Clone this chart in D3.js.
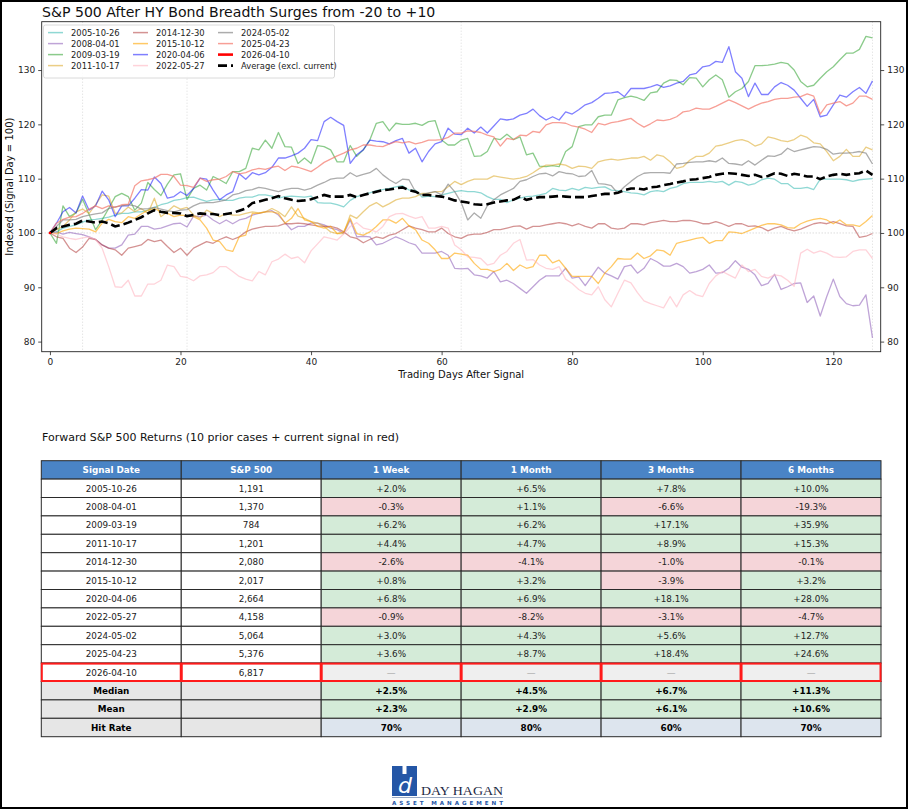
<!DOCTYPE html>
<html>
<head>
<meta charset="utf-8">
<script src="https://cdn.jsdelivr.net/npm/d3@7"></script>
<style>
  body { margin: 0; background: #fff; }
  text { font-family: "DejaVu Sans", sans-serif; }
</style>
</head>
<body>
<div id="chart"></div>
<script>
// ---- chart data (indexed, signal day = 100), one value per trading day 0..126
var s2005 = [100,100.2,100.9,101.2,101.5,102.0,102.4,102.5,102.7,102.9,
  103.3,103.6,103.6,103.9,103.9,104.2,104.7,105.2,105.5,106.0,
  106.2,106.5,106.6,106.2,105.8,106.1,106.2,106.0,106.0,106.4,
  106.6,106.6,107.0,107.0,106.8,106.4,106.7,106.8,106.7,106.6,
  106.8,105.6,105.5,105.5,105.2,104.8,106.0,106.7,107.0,107.4,
  107.8,108.0,108.2,108.5,108.7,107.9,107.9,106.6,106.8,106.7,
  107.0,107.3,107.6,107.8,107.6,107.6,107.4,106.7,106.2,106.2,
  105.6,106.1,106.4,106.7,106.8,107.0,107.3,108.2,107.9,107.8,
  108.2,107.9,108.4,108.2,108.4,108.5,107.9,107.8,107.6,107.4,
  107.3,107.0,107.6,107.8,107.6,108.2,108.5,109.1,109.3,109.3,
  109.3,109.5,109.3,109.5,108.8,109.5,109.3,108.8,109.1,109.8,
  110.1,109.9,109.1,109.1,108.2,108.2,108.4,108.0,109.9,109.9,
  109.9,109.9,109.8,109.5,109.8,109.9,110.0];
var s2008 = [100,100.2,99.8,100.1,99.9,99.7,99.3,98.8,97.8,97.2,
  97.2,97.8,99.6,99.8,101.2,101.2,100.7,100.9,101.3,101.7,
  101.8,101.1,103.1,103.0,103.3,102.4,101.7,102.4,101.7,102.4,
  102.7,103.3,103.6,103.9,104.1,103.3,101.9,100.6,101.2,101.2,
  101.8,101.8,101.5,100.9,100.6,99.9,102.4,99.3,99.4,99.3,
  97.8,98.1,98.7,99.3,98.8,98.2,97.8,96.3,96.3,96.3,
  96.6,95.9,93.5,93.4,93.5,92.3,92.1,91.7,92.9,91.0,
  91.3,90.7,89.8,88.9,90.1,91.3,92.1,92.1,92.1,93.5,
  91.7,91.9,90.3,92.0,93.7,92.6,92.1,91.5,93.8,94.1,
  92.6,93.5,95.3,94.7,93.9,93.9,94.4,93.8,92.6,92.9,
  93.3,94.1,92.6,92.7,93.5,94.9,93.7,93.3,92.3,90.3,
  90.7,92.4,89.6,90.1,90.7,90.8,87.2,88.4,84.7,88.3,
  91.5,88.3,87.0,86.6,86.7,88.6,80.7];
var s2009 = [100,98.1,105.0,103.0,103.7,106.2,103.4,100.6,102.4,104.5,
  106.7,107.3,106.7,104.2,105.5,109.3,108.0,106.9,109.0,110.7,
  110.9,106.2,108.2,108.8,107.9,110.4,109.8,109.1,111.3,111.3,
  111.9,115.6,115.3,117.1,115.6,118.5,115.9,115.8,112.8,113.8,
  112.8,116.1,115.9,115.3,113.1,113.1,116.1,114.1,115.3,117.1,
  120.2,120.5,118.8,120.2,120.0,120.0,120.2,119.8,120.5,120.7,
  117.1,116.2,116.2,117.1,117.4,114.1,114.2,115.0,117.4,117.2,
  118.2,117.2,117.7,114.4,114.7,112.3,112.2,112.4,112.2,115.0,
  115.9,119.6,119.9,119.9,121.4,121.7,121.7,124.5,124.9,125.2,
  124.9,124.4,125.8,126.0,127.6,128.2,128.1,127.3,128.6,128.5,
  126.9,128.2,129.1,128.2,125.0,126.0,126.6,127.9,130.8,130.8,
  130.9,131.1,131.4,131.2,130.0,127.9,126.9,127.2,128.5,129.7,
  130.6,131.9,133.1,133.1,133.8,136.2,135.9];
var s2011 = [100,100.6,101.2,102.4,103.9,104.4,103.6,105.2,107.0,106.8,
  103.6,103.7,104.8,103.9,104.5,103.6,106.4,103.0,103.9,105.0,
  104.4,104.7,103.3,102.7,104.2,103.6,103.0,103.6,103.3,103.3,
  103.6,103.9,103.7,103.9,104.5,103.9,103.0,104.8,103.1,102.7,
  102.1,101.8,101.2,100.2,99.9,99.9,103.3,102.7,103.9,105.0,
  105.6,104.8,105.4,106.1,106.4,106.4,106.7,107.3,107.3,107.6,
  107.6,108.5,109.5,108.9,109.5,109.9,109.9,109.9,110.5,110.3,
  110.1,109.9,110.1,110.4,111.1,111.9,112.5,112.5,112.7,112.5,
  111.9,112.3,112.2,111.9,113.1,113.4,113.6,113.4,113.6,113.8,
  113.8,114.1,113.4,114.4,114.1,113.1,111.9,112.2,113.4,114.1,
  114.1,114.7,116.0,116.2,116.6,117.0,117.2,116.8,116.0,116.4,
  117.7,117.4,117.0,116.8,117.2,118.0,117.6,116.6,116.4,115.0,
  113.3,114.1,115.4,114.1,114.1,115.8,115.3];
var s2014 = [100,99.3,99.0,97.2,96.4,97.4,99.0,98.8,97.8,97.2,
  96.9,95.9,97.2,97.5,97.8,98.8,98.4,98.7,97.5,96.4,
  97.2,95.9,97.2,97.8,98.4,98.1,98.8,99.3,98.8,99.3,
  100.2,100.7,101.0,101.2,101.2,101.3,101.7,101.7,101.8,101.7,
  101.5,101.3,101.2,101.2,100.9,100.2,99.3,99.0,98.2,98.8,
  99.3,99.0,99.6,99.9,100.6,101.3,100.9,100.6,100.2,100.2,
  100.9,99.9,99.3,99.0,99.6,99.8,99.8,100.1,100.6,100.6,
  100.9,101.2,101.3,100.7,101.2,101.2,101.5,101.7,101.9,101.7,
  101.3,101.7,101.2,100.9,101.7,101.7,100.9,100.7,100.9,101.7,
  101.7,101.5,101.9,102.1,102.3,102.1,102.1,102.3,102.3,102.1,
  101.7,101.7,102.1,101.7,101.2,101.7,101.7,101.2,101.3,101.0,
  100.4,100.9,101.2,100.7,100.4,100.7,101.2,101.7,101.9,101.7,
  102.1,101.7,101.3,101.2,99.2,99.4,99.9];
var s2015 = [100,99.9,100.4,100.7,100.9,100.8,100.7,100.2,101.8,102.5,
  102.1,101.9,103.0,102.7,103.5,104.2,104.5,103.9,103.6,103.0,
  103.3,103.2,103.0,102.4,100.9,98.7,98.4,96.9,96.6,99.3,
  99.6,103.6,103.6,103.9,103.9,103.6,101.8,102.7,104.5,102.4,
  102.1,101.2,100.9,101.2,99.9,100.2,102.7,99.9,99.6,100.2,
  101.2,102.4,102.4,101.8,102.7,101.3,100.6,98.7,98.1,96.9,
  95.3,95.3,96.3,96.1,95.9,94.4,93.3,93.3,92.9,93.3,
  94.4,93.1,94.1,93.5,93.8,95.9,95.9,94.5,95.0,93.5,
  92.0,92.0,92.0,92.0,90.7,92.6,93.8,95.3,95.2,95.2,
  96.3,95.3,95.8,96.9,96.7,95.9,98.1,98.4,98.7,99.0,
  99.2,98.1,98.6,98.6,100.2,100.1,99.9,100.4,100.9,101.4,
  101.7,101.7,101.5,101.0,100.9,101.7,102.2,102.5,102.7,102.4,
  101.7,102.4,101.5,101.5,101.2,102.1,103.2];
var s2020 = [100,101.8,103.9,104.7,103.7,106.8,104.2,105.0,107.7,106.1,
  103.0,105.0,105.0,106.4,108.0,107.9,110.3,109.1,106.4,106.7,
  107.6,106.9,108.2,110.1,109.9,107.9,106.1,107.0,107.6,110.9,
  109.9,111.1,110.7,111.1,112.1,113.8,113.8,114.2,114.7,115.6,
  117.2,117.0,120.5,121.3,120.5,119.8,112.8,114.4,115.3,117.1,
  116.9,116.8,116.4,117.0,117.4,114.7,115.6,113.1,115.0,116.4,
  116.8,119.3,118.2,118.1,119.3,118.4,119.5,118.4,119.7,121.0,
  120.8,121.0,121.7,122.0,122.8,121.6,120.8,121.4,120.8,122.3,
  121.9,122.7,123.6,124.0,124.8,125.7,125.8,126.0,125.1,126.6,
  126.6,126.6,126.9,127.3,126.8,127.1,127.6,127.9,129.1,129.4,
  130.6,130.8,131.6,131.4,134.3,129.7,128.5,125.1,127.6,125.5,
  125.5,126.9,127.7,127.2,126.3,124.8,123.3,124.6,121.4,121.7,
  123.6,125.4,125.0,126.0,126.8,125.7,128.0];
var s2022 = [100,99.8,99.3,99.0,98.8,99.1,99.3,98.8,97.2,93.8,
  90.1,90.0,91.3,88.4,88.4,90.6,90.6,91.3,94.1,93.8,
  92.0,91.8,91.2,92.1,92.3,92.7,93.8,93.8,92.9,92.0,
  91.5,91.2,92.9,92.3,94.7,95.2,96.1,95.3,95.6,94.5,
  96.7,98.0,99.3,99.0,98.7,99.8,101.2,101.9,100.9,100.6,
  100.2,101.2,103.0,103.5,103.6,103.1,102.7,103.0,100.9,100.9,
  101.2,100.9,97.8,96.9,95.6,95.5,95.3,94.1,94.4,95.9,
  96.6,98.1,98.8,95.0,95.1,94.1,93.5,93.3,93.8,91.5,
  90.7,89.6,88.9,88.6,90.1,87.7,86.4,88.9,91.3,90.8,
  89.0,87.5,87.0,86.6,86.2,88.3,86.4,88.6,89.4,88.6,
  88.3,90.7,92.1,92.9,92.3,91.7,94.1,92.9,93.3,92.0,
  91.7,92.3,92.1,91.3,90.2,96.3,97.0,96.3,96.7,96.3,
  95.6,95.5,95.6,96.6,96.9,96.9,95.3];
var s2024 = [100,101.2,102.4,102.4,102.5,103.0,103.3,103.5,103.7,104.5,
  104.8,105.0,105.2,105.0,104.4,104.5,104.7,104.4,104.1,103.9,
  104.2,104.3,105.0,105.5,105.6,105.6,105.8,106.1,107.0,107.3,
  107.8,108.0,108.4,108.2,107.9,107.6,108.0,108.2,108.2,107.9,
  108.2,108.8,109.3,109.9,110.1,110.1,111.1,110.4,110.8,111.1,
  111.9,110.7,109.8,109.1,109.9,109.8,107.6,107.0,107.4,107.6,
  107.0,109.0,107.6,105.6,102.4,103.7,102.7,105.0,106.1,107.0,
  107.6,108.2,109.5,109.8,110.4,110.9,111.0,110.5,111.3,111.0,
  110.9,110.4,110.5,111.5,109.1,109.0,108.7,107.3,108.5,109.5,
  110.4,111.0,111.1,111.1,111.1,111.0,112.7,112.8,113.0,113.1,
  113.1,113.3,113.1,113.8,112.8,112.7,112.5,113.3,112.5,113.4,
  114.2,114.1,114.5,115.6,115.0,115.3,115.6,115.9,115.8,115.4,
  114.5,114.7,114.7,114.8,115.0,114.7,112.7];
var s2025 = [100,101.8,102.5,102.9,103.0,103.6,104.4,105.0,104.5,105.0,
  104.7,105.2,105.3,108.7,109.6,109.8,110.1,110.8,110.8,110.4,
  108.8,108.7,108.4,110.1,109.5,109.8,109.9,110.4,111.3,110.9,
  111.1,111.6,111.9,111.7,112.1,112.3,111.5,112.3,112.1,111.7,
  111.3,112.1,113.0,113.6,114.2,114.7,115.3,115.6,116.2,116.2,
  116.0,115.9,116.4,116.8,116.6,116.8,116.4,116.7,117.1,117.1,
  117.2,117.6,118.4,118.4,118.8,118.7,118.5,118.0,117.7,116.0,
  117.4,117.2,118.0,117.9,118.7,118.5,119.9,120.3,120.3,120.2,
  119.7,119.5,119.1,118.5,120.2,119.9,120.3,120.5,120.8,121.1,
  120.2,119.5,120.1,120.8,120.7,120.9,121.4,122.3,122.5,123.0,
  122.8,122.8,123.3,123.9,124.5,124.0,123.4,122.8,123.4,123.9,
  124.2,124.6,124.8,124.8,125.0,125.1,125.6,125.2,121.9,123.6,
  123.9,124.2,123.4,123.9,125.2,125.2,124.6];
var s2026 = [100];
var avgPrior = [100,100.9,101.2,101.5,101.7,102.3,102.1,101.9,102.1,101.8,
  101.2,101.5,101.9,102.4,102.9,103.6,104.2,103.9,103.7,103.7,
  103.6,103.1,103.3,103.6,103.5,103.5,103.3,103.5,103.7,104.1,
  104.5,105.5,105.8,106.1,106.4,106.8,106.4,106.1,105.9,106.0,
  106.2,106.6,107.0,106.7,106.7,106.7,107.0,106.6,107.0,107.3,
  107.6,107.9,108.0,108.2,108.4,107.9,107.6,107.0,107.0,106.8,
  106.7,106.4,106.0,105.8,105.6,105.3,105.2,105.3,105.6,105.8,
  106.0,106.1,106.7,106.1,106.4,106.6,106.6,106.7,106.8,106.7,
  106.6,106.6,106.6,106.8,107.0,107.2,107.2,107.4,107.9,108.2,
  108.2,108.0,108.4,108.5,108.8,109.0,109.3,109.5,109.8,109.9,
  110.1,110.3,110.7,110.9,111.0,110.9,110.7,110.5,110.7,110.3,
  110.5,111.0,110.9,110.5,110.9,110.7,110.4,110.4,109.9,110.4,
  110.7,110.9,110.7,110.9,111.0,111.5,110.7];

var seriesNames = ["2005-10-26","2008-04-01","2009-03-19","2011-10-17","2014-12-30",
  "2015-10-12","2020-04-06","2022-05-27","2024-05-02","2025-04-23","2026-04-10"];
var seriesValues = [s2005, s2008, s2009, s2011, s2014, s2015, s2020, s2022, s2024, s2025, s2026];
var seriesColors = ["#20b2aa","#9467bd","#2ca02c","#daa520","#b03a3a",
  "#ffa500","#0000ff","#ffb6c1","#808080","#f4766a","#ff0000"];

var xTicks = [0, 20, 40, 60, 80, 100, 120];
var yTicks = [80, 90, 100, 110, 120, 130];
var markerDays = [5, 21, 63, 126];

// ---- table data
var colHeads = ["Signal Date", "S&P 500", "1 Week", "1 Month", "3 Months", "6 Months"];
var spxLevel = [1191, 1370, 784, 1201, 2080, 2017, 2664, 4158, 5064, 5376, 6817];
var ret1w = [2.0, -0.3, 6.2, 4.4, -2.6, 0.8, 6.8, -0.9, 3.0, 3.6, null];
var ret1m = [6.5, 1.1, 6.2, 4.7, -4.1, 3.2, 6.9, -8.2, 4.3, 8.7, null];
var ret3m = [7.8, -6.6, 17.1, 8.9, -1.0, -3.9, 18.1, -3.1, 5.6, 18.4, null];
var ret6m = [10.0, -19.3, 35.9, 15.3, -0.1, 3.2, 28.0, -4.7, 12.7, 24.6, null];
var statNames = ["Median", "Mean", "Hit Rate"];
var medianRet = [2.5, 4.5, 6.7, 11.3];
var meanRet = [2.3, 2.9, 6.1, 10.6];
var hitRate = [70, 80, 60, 70];

// ---- page
var W = 909, H = 811;
var svg = d3.select("#chart").append("svg")
  .attr("width", W).attr("height", H);

svg.append("rect").attr("x", 1).attr("y", 1).attr("width", W - 3).attr("height", H - 4)
  .attr("fill", "#fff").attr("stroke", "#000").attr("stroke-width", 2);

var plot = {left: 41.7, right: 880.7, top: 21.7, bottom: 351.7};

var xScale = d3.scaleLinear().domain([-1.26, 127.26]).range([plot.left, plot.right]);
var yScale = d3.scaleLinear().domain([78.14, 138.9]).range([plot.bottom, plot.top]);

svg.append("text")
  .attr("x", 42).attr("y", 16.5)
  .attr("font-size", "14.1px").attr("fill", "#111")
  .text("S&P 500 After HY Bond Breadth Surges from -20 to +10");

// reference lines
svg.append("g").selectAll("line")
  .data(markerDays)
  .join("line")
    .attr("x1", d => xScale(d)).attr("x2", d => xScale(d))
    .attr("y1", plot.top).attr("y2", plot.bottom)
    .attr("stroke", "#d0d0d0").attr("stroke-width", 0.8)
    .attr("stroke-dasharray", "1,2");

svg.append("line")
  .attr("x1", plot.left).attr("x2", plot.right)
  .attr("y1", yScale(100)).attr("y2", yScale(100))
  .attr("stroke", "#c0c0c0").attr("stroke-width", 0.8)
  .attr("stroke-dasharray", "1,2");

var line = d3.line()
  .x((d, i) => xScale(i))
  .y(d => yScale(d));

var opac = [0.5, 0.6, 0.55, 0.55, 0.55, 0.6, 0.5, 0.6, 0.65, 0.7, 1];

svg.append("g").selectAll("path")
  .data(seriesValues.slice(0, 10))
  .join("path")
    .attr("d", line)
    .attr("fill", "none")
    .attr("stroke", (d, i) => seriesColors[i])
    .attr("stroke-opacity", (d, i) => opac[i])
    .attr("stroke-width", 1.3)
    .attr("stroke-linejoin", "round");

svg.append("path")
  .attr("d", line(avgPrior))
  .attr("fill", "none")
  .attr("stroke", "#000")
  .attr("stroke-width", 2.6)
  .attr("stroke-dasharray", "9,4");

// current signal (single point at day 0)
svg.append("circle")
  .attr("cx", xScale(0)).attr("cy", yScale(s2026[0])).attr("r", 1.3)
  .attr("fill", "#ff0000");

// frame
svg.append("rect")
  .attr("x", plot.left).attr("y", plot.top)
  .attr("width", plot.right - plot.left).attr("height", plot.bottom - plot.top)
  .attr("fill", "none").attr("stroke", "#222").attr("stroke-width", 0.9);

// axes
var xAxis = d3.axisBottom(xScale).tickValues(xTicks).tickSize(3.5).tickSizeOuter(0).tickPadding(3);
var yAxisL = d3.axisLeft(yScale).tickValues(yTicks).tickSize(3.5).tickSizeOuter(0).tickPadding(3);
var yAxisR = d3.axisRight(yScale).tickValues(yTicks).tickSize(3.5).tickSizeOuter(0).tickPadding(3);

function styleAxis(g) {
  g.select(".domain").remove();
  g.selectAll("line").attr("stroke", "#222").attr("stroke-width", 0.8);
  g.selectAll("text").attr("font-size", "9px").attr("fill", "#222")
    .style("font-family", "'DejaVu Sans', sans-serif");
}

svg.append("g").attr("class", "x axis")
  .attr("transform", `translate(0,${plot.bottom})`)
  .call(xAxis).call(styleAxis);
svg.append("g").attr("class", "y axis")
  .attr("transform", `translate(${plot.left},0)`)
  .call(yAxisL).call(styleAxis);
svg.append("g").attr("class", "y axis right")
  .attr("transform", `translate(${plot.right},0)`)
  .call(yAxisR).call(styleAxis);

svg.append("text")
  .attr("x", (plot.left + plot.right) / 2).attr("y", 378)
  .attr("text-anchor", "middle").attr("font-size", "10px").attr("fill", "#111")
  .text("Trading Days After Signal");

svg.append("text")
  .attr("transform", `translate(12.5,${(plot.top + plot.bottom) / 2}) rotate(-90)`)
  .attr("text-anchor", "middle").attr("font-size", "10px").attr("fill", "#111")
  .text("Indexed (Signal Day = 100)");

// legend
var legendItems = seriesNames.map((n, i) => ({label: n, color: seriesColors[i], op: opac[i], w: i === 10 ? 2.6 : 1.5, dash: null}))
  .concat([{label: "Average (excl. current)", color: "#000", op: 1, w: 2.6, dash: "9,4"}]);

var lg = svg.append("g");
lg.append("rect")
  .attr("x", 43.5).attr("y", 25).attr("width", 291).attr("height", 53)
  .attr("rx", 2).attr("fill", "#fff").attr("fill-opacity", 0.85)
  .attr("stroke", "#d0d0d0").attr("stroke-width", 0.8);

var colX = [48, 133, 218];
var rowY = [32.6, 43.6, 54.6, 65.6];
var li = lg.selectAll("g.item")
  .data(legendItems)
  .join("g")
    .attr("class", "item")
    .attr("transform", (d, i) => `translate(${colX[Math.floor(i / 4)]},${rowY[i % 4]})`);
li.append("line")
  .attr("x1", 0).attr("x2", 15).attr("y1", 0).attr("y2", 0)
  .attr("stroke", d => d.color).attr("stroke-opacity", d => d.op)
  .attr("stroke-width", d => d.w)
  .attr("stroke-dasharray", d => d.dash);
li.append("text")
  .attr("x", 23).attr("y", 3.2)
  .attr("font-size", "8.4px").attr("fill", "#222")
  .text(d => d.label);

// ---- table
svg.append("text")
  .attr("x", 42).attr("y", 441)
  .attr("font-size", "11px").attr("fill", "#111")
  .text("Forward S&P 500 Returns (10 prior cases + current signal in red)");

var fmtLocale = d3.formatLocale({decimal: ".", thousands: ",", grouping: [3], currency: ["$", ""], minus: "-"});
var fmtRet = fmtLocale.format("+.1f");
var fmtLevel = fmtLocale.format(",");

var retCols = [ret1w, ret1m, ret3m, ret6m];
var nSig = seriesNames.length;
var rows = [];
seriesNames.forEach((n, r) => {
  rows.push([
    {text: n, fill: "#fff", bold: false},
    {text: fmtLevel(spxLevel[r]), fill: "#fff", bold: false}
  ].concat(retCols.map(c => {
    var v = c[r];
    if (v == null) return {text: "\u2014", fill: "#efefef", bold: false, dim: true};
    return {text: fmtRet(v) + "%", fill: v >= 0 ? "#d4ebd8" : "#f5d5d9", bold: false};
  })));
});
[medianRet, meanRet].forEach((arr, k) => {
  rows.push([
    {text: statNames[k], fill: "#e6e6e6", bold: true},
    {text: "", fill: "#e6e6e6", bold: true}
  ].concat(arr.map(v => ({text: fmtRet(v) + "%", fill: v >= 0 ? "#d4ebd8" : "#f5d5d9", bold: true}))));
});
rows.push([
  {text: statNames[2], fill: "#e6e6e6", bold: true},
  {text: "", fill: "#e6e6e6", bold: true}
].concat(hitRate.map(v => ({text: v + "%", fill: "#dde5ee", bold: true}))));

var colScale = d3.scaleBand().domain(d3.range(colHeads.length)).range([41.3, 881]);
var rowScale = d3.scaleBand().domain(d3.range(rows.length + 1)).range([460.7, 736.7]);

var tbl = svg.append("g");

// header
var hd = tbl.selectAll("g.head")
  .data(colHeads)
  .join("g").attr("class", "head");
hd.append("rect")
  .attr("x", (d, i) => colScale(i)).attr("y", rowScale(0))
  .attr("width", colScale.bandwidth()).attr("height", rowScale.bandwidth())
  .attr("fill", "#4a84c6").attr("stroke", "#2a2a2a").attr("stroke-width", 1);
hd.append("text")
  .attr("x", (d, i) => colScale(i) + colScale.bandwidth() / 2)
  .attr("y", rowScale(0) + rowScale.bandwidth() / 2 + 3.3)
  .attr("text-anchor", "middle").attr("font-size", "8.8px").attr("font-weight", "bold")
  .attr("fill", "#fff")
  .text(d => d);

var rg = tbl.selectAll("g.row")
  .data(rows)
  .join("g").attr("class", "row")
  .attr("transform", (d, r) => `translate(0,${rowScale(r + 1)})`);

var cells = rg.selectAll("g.cell")
  .data(d => d)
  .join("g").attr("class", "cell");
cells.append("rect")
  .attr("x", (d, i) => colScale(i)).attr("y", 0)
  .attr("width", colScale.bandwidth()).attr("height", rowScale.bandwidth())
  .attr("fill", d => d.fill).attr("stroke", "#2a2a2a").attr("stroke-width", 1);
cells.append("text")
  .attr("x", (d, i) => colScale(i) + colScale.bandwidth() / 2)
  .attr("y", rowScale.bandwidth() / 2 + 3.3)
  .attr("text-anchor", "middle").attr("font-size", "8.8px")
  .attr("font-weight", d => d.bold ? "bold" : "normal")
  .attr("fill", d => d.dim ? "#999" : (d.bold ? "#000" : "#222"))
  .text(d => d.text);

// current signal row outlined in red
tbl.selectAll("rect.cur")
  .data(colHeads)
  .join("rect").attr("class", "cur")
  .attr("x", (d, i) => colScale(i) + 0.5).attr("y", rowScale(nSig) + 0.5)
  .attr("width", colScale.bandwidth() - 1).attr("height", rowScale.bandwidth() - 1)
  .attr("fill", "none").attr("stroke", "#ff1a1a").attr("stroke-width", 2);

// ---- logo
var logo = svg.append("g");
logo.append("rect").attr("x", 392).attr("y", 766).attr("width", 25).attr("height", 30).attr("fill", "#2456a6");
logo.append("rect").attr("x", 402.5).attr("y", 766).attr("width", 4).attr("height", 8).attr("fill", "#fff");
logo.append("text").attr("x", 398).attr("y", 793)
  .attr("font-family", "'DejaVu Serif', serif").attr("font-style", "italic")
  .attr("font-size", "22px").attr("fill", "#fff").text("d");
logo.append("text").attr("x", 421).attr("y", 795)
  .style("font-family", "'Liberation Serif', serif")
  .attr("font-size", "13px").attr("fill", "#1d2844")
  .attr("textLength", 82).attr("lengthAdjust", "spacingAndGlyphs")
  .text("DAY HAGAN");
logo.append("line").attr("x1", 392).attr("x2", 503).attr("y1", 797.5).attr("y2", 797.5)
  .attr("stroke", "#9aaac4").attr("stroke-width", 1);
logo.append("text").attr("x", 392).attr("y", 805)
  .attr("font-size", "5.6px").attr("font-weight", "bold").attr("fill", "#2456a6")
  .attr("textLength", 111).attr("lengthAdjust", "spacing")
  .text("ASSET MANAGEMENT");
</script>
</body>
</html>
